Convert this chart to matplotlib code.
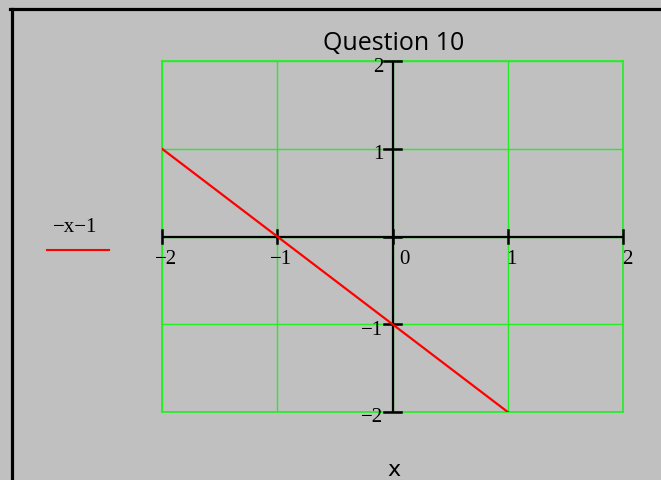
import matplotlib
matplotlib.use("Agg")
import matplotlib.pyplot as plt
from matplotlib.lines import Line2D
from matplotlib.transforms import offset_copy

# data
xs = [-2, -1, 0, 1]
ys = [1, 0, -1, -2]
ticks = [-2, -1, 0, 1, 2]
tick_labels = ["\u22122", "\u22121", "0", "1", "2"]
title = "Question 10"
xlabel = "x"
legend_label = "\u2212x\u22121"

W, H = 661, 481
fig = plt.figure(figsize=(W / 100, H / 100), dpi=100)
fig.patch.set_facecolor("#c0c0c0")

L, R, T, B = 162, 623, 62, 413
ax = fig.add_axes([L / W, 1 - B / H, (R - L) / W, (B - T) / H])
ax.set_facecolor("#c0c0c0")
ax.set_xlim(-2, 2)
ax.set_ylim(-2, 2)
green = "#22ee22"
for s in ax.spines.values():
    s.set_color(green)
    s.set_linewidth(1.2)
ax.set_xticks(ticks)
ax.set_yticks(ticks)
ax.tick_params(length=0, labelbottom=False, labelleft=False)
ax.grid(True, color=green, linewidth=1.0)

# axes through origin
ax.axhline(0, color="black", lw=1.6, zorder=3)
ax.axvline(0, color="black", lw=1.6, zorder=3)
for t in ticks:
    ax.plot([t, t], [-0.07, 0.07], color="black", lw=1.8, zorder=3, clip_on=False)
    ax.plot([-0.07, 0.07], [t, t], color="black", lw=1.8, zorder=3, clip_on=False)

serif = "Liberation Serif"
for t, lab in zip(ticks, tick_labels):
    dx = 12 if t == 0 else 4
    tr = offset_copy(ax.transData, fig=fig, x=dx, y=-22, units="dots")
    ax.text(t, 0, lab, transform=tr, ha="center", va="center",
            fontsize=15, family=serif, zorder=4)
for t, lab in zip(ticks, tick_labels):
    if t == 0:
        continue
    tr = offset_copy(ax.transData, fig=fig, x=-9, y=-5, units="dots")
    ax.text(0, t, lab, transform=tr, ha="right", va="center",
            fontsize=15, family=serif, zorder=4)

ax.plot(xs, ys, color="red", lw=1.6, zorder=5)

fig.text(394 / W, 1 - 44 / H, title, ha="center", va="center",
         fontsize=18, family="Open Sans")
fig.text(394 / W, 1 - 470 / H, xlabel, ha="center", va="center",
         fontsize=16, family="DejaVu Sans")

# legend
fig.text(75 / W, 1 - 228 / H, legend_label, ha="center", va="center",
         fontsize=15, family=serif)
fig.add_artist(Line2D([47 / W, 109 / W], [1 - 251 / H, 1 - 251 / H],
                      color="red", lw=1.5))

# black frame (left and top)
fig.add_artist(Line2D([11.5 / W, 11.5 / W], [0, 1 - 9.5 / H], color="black", lw=2.3))
fig.add_artist(Line2D([10 / W, 1], [1 - 9.5 / H, 1 - 9.5 / H], color="black", lw=2.3))

fig.savefig("out.png", dpi=100, facecolor=fig.get_facecolor())
